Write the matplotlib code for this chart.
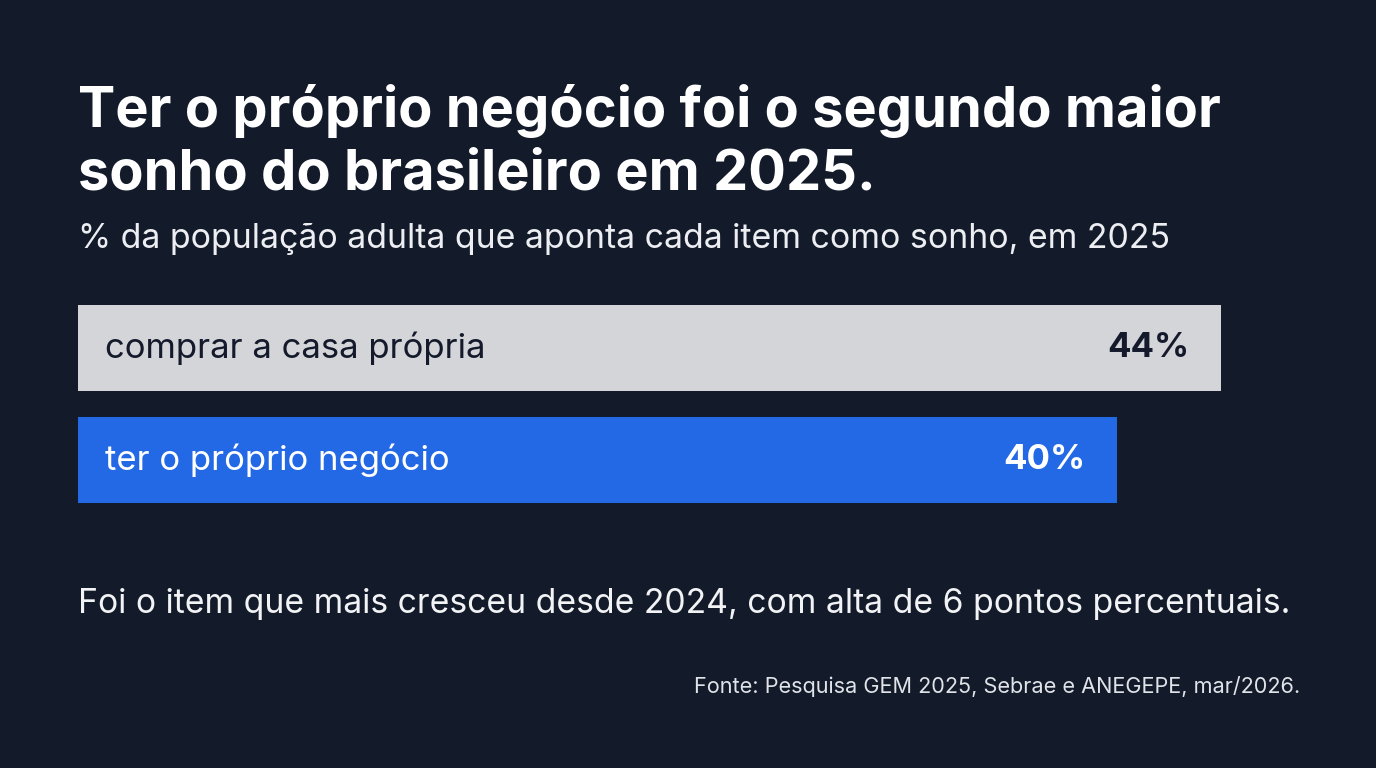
import matplotlib
import matplotlib.pyplot as plt

matplotlib.use('agg')

# data
categories = ['comprar a casa própria', 'ter o próprio negócio']
values = [44, 40]
bar_colors = ['#d4d5d8', '#2368e5']
value_colors = ['#141a2b', '#ffffff']
label_colors = ['#141a2b', '#ffffff']

title = 'Ter o próprio negócio foi o segundo maior\nsonho do brasileiro em 2025.'
subtitle = '% da população adulta que aponta cada item como sonho, em 2025'
note = 'Foi o item que mais cresceu desde 2024, com alta de 6 pontos percentuais.'
source = 'Fonte: Pesquisa GEM 2025, Sebrae e ANEGEPE, mar/2026.'

bg = '#131a2a'
W, H = 1376, 768

plt.rcParams['font.family'] = ['Inter', 'DejaVu Sans']

fig = plt.figure(figsize=(W / 100, H / 100), dpi=100)
fig.patch.set_facecolor(bg)

# bar area in pixels: x 78..1221, y 305..503
ax = fig.add_axes([78 / W, (H - 503) / H, (1221 - 78) / W, 198 / H])
ax.set_facecolor(bg)
ypos = list(range(len(categories)))[::-1]
ax.barh(ypos, values, height=0.768, color=bar_colors)
ax.set_xlim(0, max(values))
ax.set_ylim(-0.384, len(categories) - 1 + 0.384)
ax.axis('off')

for y, cat, v, lc, vc in zip(ypos, categories, values, label_colors, value_colors):
    ax.annotate(cat, xy=(0, y), xytext=(27 * 0.72, 0), textcoords='offset points',
                ha='left', va='center', fontsize=25, color=lc)
    ax.annotate(f'{v}%', xy=(v, y), xytext=(-32 * 0.72, 0), textcoords='offset points',
                ha='right', va='center', fontsize=25, fontweight='bold', color=vc)

# va='baseline' on two lines anchors the last line
fig.text(78 / W, 1 - 190 / H, title, ha='left', va='baseline', fontsize=40.3,
         fontweight='bold', color='white', linespacing=1.28)
fig.text(78 / W, 1 - 248 / H, subtitle, ha='left', va='baseline', fontsize=24.4,
         color='#eceef2')
fig.text(78 / W, 1 - 613 / H, note, ha='left', va='baseline', fontsize=24.3,
         color='#f2f3f5')
fig.text(1300 / W, 1 - 693 / H, source, ha='right', va='baseline', fontsize=15.6,
         color='#e0e3e8')

plt.savefig('out.png', dpi=100, facecolor=bg)
